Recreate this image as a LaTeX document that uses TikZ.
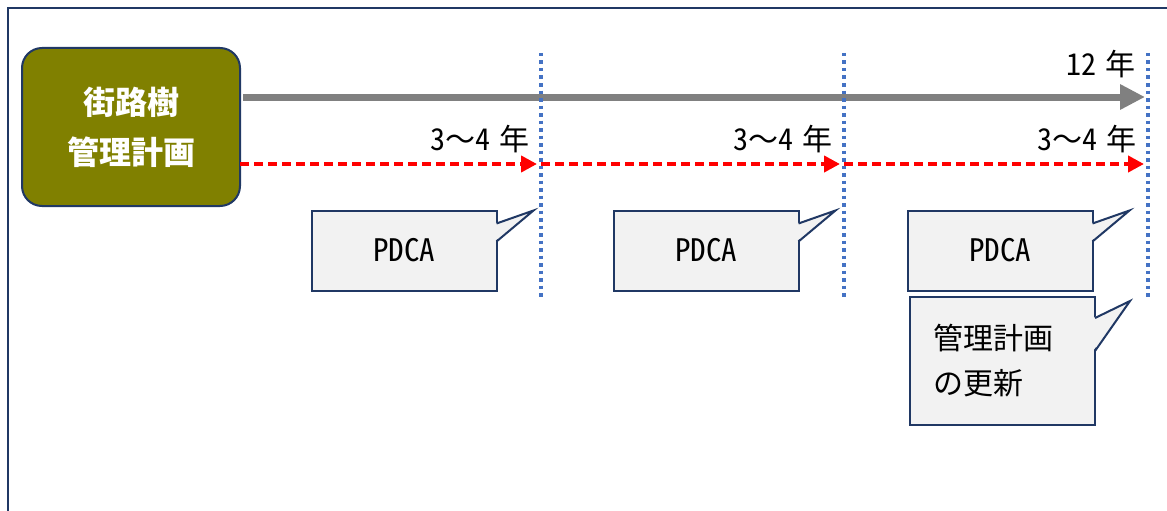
\documentclass[tikz,border=0pt]{standalone}
\usepackage{fontspec}
\setmainfont{Noto Sans CJK JP}[CharacterWidth=Half]
\newfontfamily\jpfull{Noto Sans CJK JP}
\usepackage{tikz}
\usetikzlibrary{arrows.meta,positioning,calc}
\definecolor{cN}{HTML}{203864}
\definecolor{cO}{HTML}{808000}
\definecolor{cR}{HTML}{FF0000}
\definecolor{cB}{HTML}{4472C4}
\definecolor{cG}{HTML}{808080}
\definecolor{cL}{HTML}{F2F2F2}
\tikzset{
  plan/.style={rounded corners=20pt,draw=cN,line width=2pt,fill=cO,text=white,
              font=\fontsize{32}{50}\selectfont\bfseries,align=center,
              minimum width=218pt,minimum height=158pt,outer sep=0pt},
  bubble/.style={draw=cN,line width=2pt,fill=cL,font=\fontsize{31}{45}\selectfont,
              minimum width=185pt,minimum height=80pt,outer sep=0pt},
  tail/.style={draw=cN,line width=2pt,line join=miter},
  span/.style={-{Triangle[length=16pt,width=16pt]},line width=4pt,cR,
              dash pattern=on 9pt off 5pt},
  whole/.style={-{Triangle[length=25pt,width=24pt]},line width=7pt,cG},
  guide/.style={cB,line width=3.5pt,dash pattern=on 3.5pt off 4pt},
  yrs/.style={font=\fontsize{30}{34}\selectfont,anchor=base east,inner sep=0pt},
}
\newcommand\yrsp{\hspace{0.3em}}
\begin{document}
\begin{tikzpicture}[x=1pt,y=-1pt]
  \useasboundingbox (0,0) rectangle (1167,511);
  \clip (0,0) rectangle (1167,511);
  \draw[cN,line width=2pt] (7.5,530) -- (7.5,8.5) -- (1180,8.5);
  \node[plan] (plan) at (131,127) {街路樹\\管理計画};
  % 12-year span
  \coordinate (g0) at (243,97);
  \coordinate (g1) at (1145,97);
  \draw[whole] (g0) -- (g1);
  \node[yrs] (y12) at (1136,75) {12\yrsp 年};
  % 3-4 year cycles
  \coordinate (r0) at (240,164);
  \foreach \i/\x/\v in {1/404/541,2/706/844,3/1000/1148}{
    \coordinate (r\i) at ({\v-4},164);
    \coordinate (s\i) at (\v,164);
    \node[yrs] (y\i) at ({\v-11},150) {3{\jpfull ～}4\yrsp 年};
    \node[bubble] (p\i) at (\x,250.5) {PDCA};
    \fill[cL] ($(p\i.north east)+(-2,13)$) -- ($(p\i.north east)+(37,0)$)
      -- ($(p\i.north east)+(-2,31)$) -- cycle;
    \draw[tail] ($(p\i.north east)+(0,13)$) -- ($(p\i.north east)+(37,0)$)
      -- ($(p\i.north east)+(0,31)$);
  }
  \draw[span] (r0) -- (r1);
  \draw[span] (s1) -- (r2);
  \draw[span] (s2) -- (r3);
  % plan update
  \node[bubble,font=\fontsize{30}{45}\selectfont,minimum height=128pt,
    text width=139pt,align=left,inner xsep=0pt] (upd) at (1002.5,361) {管理計画\\の更新};
  \fill[cL] ($(upd.north east)+(-2,21)$) -- ($(upd.north east)+(35,4)$)
    -- ($(upd.north east)+(-2,54)$) -- cycle;
  \draw[tail] ($(upd.north east)+(0,21)$) -- ($(upd.north east)+(35,4)$)
    -- ($(upd.north east)+(0,54)$);
  \foreach \v in {541,844,1148}{\draw[guide] (\v,53) -- (\v,298);}
\end{tikzpicture}
\end{document}
